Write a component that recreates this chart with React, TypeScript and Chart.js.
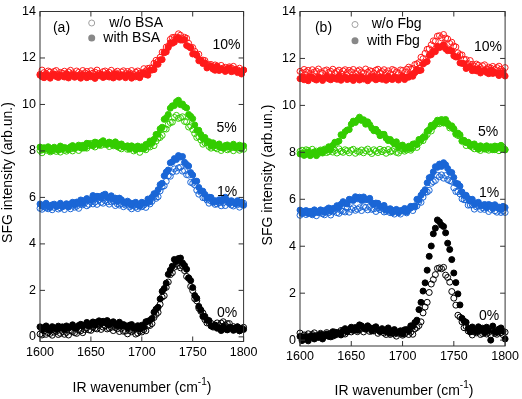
import React, { useEffect, useRef } from "react";
import { Chart, registerables } from "chart.js";

Chart.register(...registerables);

// ---------- data ----------
const WAVENUMBER = [
  1600, 1602, 1604, 1606, 1608, 1610, 1612, 1614, 1616, 1618,
  1620, 1622, 1624, 1626, 1628, 1630, 1632, 1634, 1636, 1638,
  1640, 1642, 1644, 1646, 1648, 1650, 1652, 1654, 1656, 1658,
  1660, 1662, 1664, 1666, 1668, 1670, 1672, 1674, 1676, 1678,
  1680, 1682, 1684, 1686, 1688, 1690, 1692, 1694, 1696, 1698,
  1700, 1702, 1704, 1706, 1708, 1710, 1712, 1714, 1716, 1718,
  1720, 1722, 1724, 1726, 1728, 1730, 1732, 1734, 1736, 1738,
  1740, 1742, 1744, 1746, 1748, 1750, 1752, 1754, 1756, 1758,
  1760, 1762, 1764, 1766, 1768, 1770, 1772, 1774, 1776, 1778,
  1780, 1782, 1784, 1786, 1788, 1790, 1792, 1794, 1796, 1798, 1800,
];
const X_TICKS = [1600, 1650, 1700, 1750, 1800];
const Y_TICKS = [0, 2, 4, 6, 8, 10, 12, 14];
const CONCENTRATIONS = ["10%", "5%", "1%", "0%"];

// panel (a): BSA
const A_10_WO = [
  11.30, 11.48, 11.37, 11.33, 11.44, 11.40, 11.31, 11.42, 11.46, 11.29,
  11.38, 11.35, 11.43, 11.31, 11.40, 11.47, 11.35, 11.28, 11.44, 11.38,
  11.32, 11.46, 11.36, 11.42, 11.29, 11.45, 11.35, 11.39, 11.48, 11.33,
  11.30, 11.41, 11.44, 11.34, 11.38, 11.47, 11.31, 11.37, 11.43, 11.28,
  11.40, 11.45, 11.32, 11.42, 11.36, 11.46, 11.29, 11.39, 11.44, 11.35,
  11.36, 11.54, 11.44, 11.55, 11.57, 11.56, 11.77, 11.90, 11.86, 12.03,
  12.25, 12.25, 12.47, 12.50, 12.80, 12.88, 12.89, 12.89, 13.04, 12.98,
  12.83, 12.89, 12.85, 12.63, 12.46, 12.45, 12.29, 12.13, 12.16, 11.89,
  11.91, 11.89, 11.72, 11.71, 11.72, 11.57, 11.70, 11.66, 11.53, 11.68,
  11.57, 11.60, 11.48, 11.62, 11.57, 11.64, 11.47, 11.49, 11.56, 11.43, 11.48,
];
const A_10_WITH = [
  11.26, 11.19, 11.15, 11.28, 11.23, 11.13, 11.25, 11.31, 11.20, 11.16,
  11.27, 11.22, 11.18, 11.32, 11.14, 11.24, 11.29, 11.17, 11.21, 11.26,
  11.13, 11.28, 11.25, 11.15, 11.30, 11.19, 11.22, 11.12, 11.27, 11.23,
  11.31, 11.16, 11.20, 11.29, 11.18, 11.25, 11.14, 11.32, 11.21, 11.17,
  11.28, 11.24, 11.15, 11.26, 11.30, 11.13, 11.22, 11.19, 11.27, 11.15,
  11.29, 11.37, 11.29, 11.26, 11.47, 11.48, 11.50, 11.73, 11.73, 11.92,
  11.93, 12.22, 12.26, 12.45, 12.66, 12.63, 12.68, 12.83, 12.88, 12.77,
  12.77, 12.79, 12.54, 12.49, 12.43, 12.17, 12.18, 12.11, 11.88, 11.90,
  11.76, 11.79, 11.57, 11.62, 11.64, 11.52, 11.47, 11.63, 11.46, 11.53,
  11.50, 11.42, 11.53, 11.57, 11.41, 11.44, 11.51, 11.37, 11.44, 11.31, 11.48,
];
const A_5_WO = [
  8.02, 7.92, 8.07, 8.03, 8.11, 7.96, 8.00, 8.09, 7.98, 8.05,
  7.95, 8.13, 8.03, 7.99, 8.11, 8.08, 8.00, 8.12, 8.18, 8.02,
  8.13, 8.12, 8.22, 8.12, 8.23, 8.32, 8.22, 8.17, 8.34, 8.29,
  8.24, 8.38, 8.28, 8.33, 8.19, 8.34, 8.22, 8.24, 8.31, 8.14,
  8.09, 8.18, 8.19, 8.07, 8.10, 8.17, 8.00, 8.05, 8.10, 7.94,
  8.10, 8.16, 8.05, 8.18, 8.17, 8.33, 8.23, 8.42, 8.55, 8.58,
  8.67, 8.95, 8.94, 9.14, 9.22, 9.24, 9.44, 9.53, 9.40, 9.43,
  9.47, 9.27, 9.25, 9.03, 9.08, 8.92, 8.75, 8.58, 8.61, 8.47,
  8.29, 8.35, 8.35, 8.19, 8.12, 8.20, 8.14, 8.09, 8.20, 8.02,
  8.12, 8.17, 8.05, 8.09, 8.14, 8.01, 8.16, 8.13, 8.03, 8.18, 8.07,
];
const A_5_WITH = [
  8.17, 8.04, 8.14, 8.08, 8.18, 8.01, 8.11, 8.16, 8.07, 8.03,
  8.21, 8.07, 8.15, 8.12, 8.05, 8.18, 8.23, 8.11, 8.16, 8.25,
  8.14, 8.24, 8.13, 8.33, 8.31, 8.26, 8.24, 8.38, 8.34, 8.25,
  8.38, 8.44, 8.33, 8.28, 8.38, 8.32, 8.27, 8.39, 8.19, 8.27,
  8.30, 8.17, 8.19, 8.22, 8.08, 8.22, 8.17, 8.06, 8.21, 8.09,
  8.18, 8.09, 8.28, 8.28, 8.43, 8.36, 8.50, 8.71, 8.72, 8.95,
  9.02, 9.36, 9.43, 9.57, 9.84, 9.94, 9.95, 10.12, 10.18, 9.99,
  10.02, 9.90, 9.85, 9.57, 9.49, 9.39, 9.12, 8.88, 8.89, 8.71,
  8.54, 8.58, 8.41, 8.40, 8.22, 8.35, 8.23, 8.25, 8.30, 8.15,
  8.12, 8.23, 8.26, 8.16, 8.20, 8.29, 8.13, 8.19, 8.25, 8.10, 8.22,
];
const A_1_WO = [
  5.53, 5.49, 5.60, 5.55, 5.51, 5.65, 5.47, 5.57, 5.62, 5.50,
  5.55, 5.60, 5.48, 5.63, 5.61, 5.51, 5.67, 5.58, 5.62, 5.53,
  5.70, 5.68, 5.77, 5.64, 5.70, 5.81, 5.72, 5.80, 5.70, 5.89,
  5.79, 5.75, 5.86, 5.81, 5.71, 5.81, 5.84, 5.65, 5.72, 5.67,
  5.73, 5.60, 5.67, 5.72, 5.59, 5.51, 5.65, 5.58, 5.52, 5.65,
  5.60, 5.67, 5.57, 5.77, 5.72, 5.83, 6.01, 5.96, 6.03, 6.28,
  6.46, 6.50, 6.69, 6.93, 6.91, 7.09, 7.23, 7.13, 7.27, 7.30,
  7.13, 7.15, 6.98, 6.96, 6.65, 6.61, 6.54, 6.31, 6.14, 6.22,
  5.99, 5.98, 5.89, 5.75, 5.84, 5.85, 5.70, 5.72, 5.77, 5.64,
  5.77, 5.65, 5.81, 5.74, 5.67, 5.63, 5.74, 5.69, 5.58, 5.70, 5.75,
];
const A_1_WITH = [
  5.72, 5.62, 5.66, 5.75, 5.60, 5.57, 5.68, 5.71, 5.61, 5.65,
  5.75, 5.60, 5.66, 5.73, 5.59, 5.72, 5.79, 5.68, 5.80, 5.76,
  5.89, 5.74, 5.87, 5.95, 5.89, 5.88, 6.08, 5.96, 6.05, 6.04,
  5.97, 6.10, 6.14, 5.99, 6.01, 6.07, 5.92, 5.97, 5.82, 5.97,
  5.90, 5.80, 5.74, 5.84, 5.77, 5.65, 5.75, 5.79, 5.67, 5.62,
  5.79, 5.75, 5.75, 5.93, 5.82, 6.01, 6.16, 6.17, 6.33, 6.55,
  6.61, 6.93, 7.09, 7.18, 7.49, 7.53, 7.67, 7.63, 7.80, 7.74,
  7.76, 7.51, 7.42, 7.35, 7.07, 6.96, 6.70, 6.70, 6.43, 6.28,
  6.27, 6.13, 5.96, 6.01, 6.00, 5.79, 5.86, 5.81, 5.90, 5.83,
  5.94, 6.01, 5.87, 5.75, 5.86, 5.80, 5.72, 5.86, 5.74, 5.80, 5.66,
];
const A_0_WO = [
  0.12, 0.08, 0.25, 0.11, 0.18, 0.15, 0.07, 0.20, 0.24, 0.10,
  0.15, 0.23, 0.11, 0.19, 0.08, 0.26, 0.23, 0.18, 0.15, 0.29,
  0.26, 0.18, 0.31, 0.39, 0.30, 0.28, 0.41, 0.37, 0.34, 0.49,
  0.32, 0.42, 0.47, 0.34, 0.37, 0.41, 0.27, 0.40, 0.35, 0.23,
  0.36, 0.24, 0.25, 0.13, 0.27, 0.22, 0.28, 0.12, 0.16, 0.24,
  0.21, 0.31, 0.26, 0.50, 0.49, 0.57, 0.83, 0.97, 1.05, 1.40,
  1.71, 1.77, 2.13, 2.36, 2.68, 2.76, 3.00, 3.16, 3.07, 2.97,
  3.05, 2.85, 2.60, 2.52, 2.17, 1.99, 1.64, 1.55, 1.23, 1.10,
  1.03, 0.74, 0.60, 0.61, 0.58, 0.42, 0.48, 0.60, 0.48, 0.59,
  0.65, 0.50, 0.57, 0.57, 0.39, 0.44, 0.33, 0.43, 0.26, 0.36, 0.41,
];
const A_0_WITH = [
  0.43, 0.31, 0.40, 0.47, 0.35, 0.28, 0.44, 0.38, 0.32, 0.46,
  0.37, 0.43, 0.31, 0.47, 0.38, 0.42, 0.52, 0.39, 0.37, 0.49,
  0.54, 0.46, 0.51, 0.62, 0.48, 0.56, 0.64, 0.50, 0.63, 0.69,
  0.57, 0.67, 0.61, 0.70, 0.52, 0.61, 0.65, 0.54, 0.48, 0.63,
  0.47, 0.53, 0.48, 0.38, 0.50, 0.53, 0.37, 0.40, 0.48, 0.34,
  0.50, 0.41, 0.65, 0.67, 0.71, 0.79, 1.06, 1.19, 1.27, 1.63,
  1.96, 2.08, 2.31, 2.69, 2.87, 3.04, 3.33, 3.24, 3.37, 3.39,
  3.18, 3.07, 2.91, 2.54, 2.42, 2.12, 1.78, 1.66, 1.31, 1.16,
  0.88, 0.88, 0.72, 0.70, 0.47, 0.45, 0.51, 0.37, 0.38, 0.27,
  0.45, 0.34, 0.30, 0.41, 0.37, 0.28, 0.39, 0.43, 0.26, 0.35, 0.32,
];

// panel (b): Fbg
const B_10_WO = [
  11.45, 11.39, 11.53, 11.43, 11.49, 11.36, 11.52, 11.42, 11.46, 11.55,
  11.40, 11.37, 11.48, 11.51, 11.41, 11.45, 11.54, 11.38, 11.44, 11.50,
  11.35, 11.47, 11.52, 11.39, 11.49, 11.43, 11.53, 11.36, 11.46, 11.51,
  11.42, 11.38, 11.55, 11.41, 11.48, 11.45, 11.37, 11.50, 11.54, 11.40,
  11.44, 11.52, 11.39, 11.47, 11.35, 11.53, 11.49, 11.42, 11.38, 11.51,
  11.49, 11.41, 11.54, 11.63, 11.56, 11.57, 11.74, 11.77, 11.82, 12.05,
  11.99, 12.22, 12.39, 12.41, 12.58, 12.75, 12.73, 12.95, 12.97, 12.88,
  13.02, 12.87, 12.83, 12.64, 12.69, 12.53, 12.49, 12.24, 12.16, 12.15,
  11.96, 11.95, 11.78, 11.91, 11.75, 11.68, 11.76, 11.71, 11.61, 11.69,
  11.73, 11.55, 11.63, 11.59, 11.66, 11.53, 11.61, 11.67, 11.54, 11.46, 11.61,
];
const B_10_WITH = [
  11.14, 11.22, 11.09, 11.17, 11.05, 11.23, 11.19, 11.12, 11.08, 11.21,
  11.16, 11.06, 11.18, 11.24, 11.13, 11.09, 11.20, 11.15, 11.11, 11.25,
  11.07, 11.17, 11.22, 11.10, 11.14, 11.19, 11.06, 11.21, 11.18, 11.08,
  11.23, 11.12, 11.15, 11.05, 11.20, 11.16, 11.24, 11.09, 11.13, 11.22,
  11.11, 11.18, 11.07, 11.25, 11.14, 11.10, 11.21, 11.17, 11.08, 11.19,
  11.26, 11.10, 11.20, 11.20, 11.31, 11.24, 11.39, 11.52, 11.48, 11.50,
  11.76, 11.83, 11.87, 12.13, 12.16, 12.32, 12.29, 12.52, 12.46, 12.51,
  12.59, 12.41, 12.33, 12.36, 12.31, 12.11, 12.06, 12.07, 11.81, 11.79,
  11.78, 11.57, 11.64, 11.65, 11.48, 11.55, 11.47, 11.56, 11.38, 11.46,
  11.50, 11.40, 11.35, 11.51, 11.36, 11.41, 11.37, 11.27, 11.38, 11.40, 11.25,
];
const B_5_WO = [
  8.04, 8.09, 7.96, 8.11, 8.08, 7.98, 8.13, 8.02, 8.05, 7.95,
  8.10, 8.06, 8.14, 7.99, 8.03, 8.12, 8.01, 8.08, 7.97, 8.15,
  8.04, 8.00, 8.11, 8.07, 7.98, 8.09, 8.13, 7.96, 8.05, 8.02,
  8.10, 7.98, 8.07, 8.14, 8.02, 7.95, 8.11, 8.05, 7.99, 8.13,
  8.03, 8.09, 7.96, 8.12, 8.02, 8.06, 8.15, 8.00, 7.97, 8.08,
  8.14, 8.05, 8.10, 8.22, 8.09, 8.19, 8.30, 8.21, 8.41, 8.53,
  8.50, 8.72, 8.76, 8.97, 8.91, 9.11, 9.25, 9.22, 9.22, 9.40,
  9.25, 9.28, 9.20, 9.04, 9.07, 9.01, 8.77, 8.72, 8.69, 8.47,
  8.48, 8.29, 8.41, 8.33, 8.22, 8.15, 8.26, 8.19, 8.08, 8.18,
  8.24, 8.13, 8.09, 8.20, 8.15, 8.11, 8.25, 8.07, 8.17, 8.22, 8.10,
];
const B_5_WITH = [
  7.93, 7.96, 7.87, 7.92, 8.01, 7.86, 7.93, 8.00, 7.86, 8.00,
  8.07, 7.97, 8.11, 8.09, 8.24, 8.13, 8.30, 8.43, 8.43, 8.48,
  8.75, 8.71, 8.88, 8.95, 8.97, 9.20, 9.33, 9.27, 9.38, 9.50,
  9.36, 9.39, 9.20, 9.30, 9.18, 9.03, 8.92, 8.98, 8.87, 8.71,
  8.77, 8.77, 8.60, 8.50, 8.55, 8.45, 8.36, 8.45, 8.22, 8.28,
  8.31, 8.14, 8.19, 8.26, 8.16, 8.35, 8.37, 8.33, 8.55, 8.52,
  8.64, 8.65, 8.90, 8.96, 9.15, 9.10, 9.22, 9.37, 9.30, 9.38,
  9.26, 9.40, 9.24, 9.12, 9.13, 8.99, 8.80, 8.82, 8.75, 8.49,
  8.51, 8.41, 8.43, 8.27, 8.32, 8.36, 8.22, 8.13, 8.28, 8.20,
  8.14, 8.28, 8.18, 8.24, 8.11, 8.27, 8.17, 8.21, 8.30, 8.15, 8.12,
];
const B_1_WO = [
  5.32, 5.45, 5.49, 5.35, 5.39, 5.47, 5.34, 5.42, 5.30, 5.48,
  5.44, 5.38, 5.34, 5.47, 5.43, 5.33, 5.46, 5.53, 5.43, 5.40,
  5.52, 5.49, 5.46, 5.62, 5.45, 5.57, 5.64, 5.53, 5.58, 5.64,
  5.52, 5.68, 5.65, 5.55, 5.69, 5.57, 5.59, 5.48, 5.62, 5.56,
  5.62, 5.46, 5.48, 5.56, 5.43, 5.49, 5.37, 5.54, 5.42, 5.37,
  5.53, 5.50, 5.42, 5.56, 5.63, 5.52, 5.67, 5.72, 5.90, 5.87,
  6.09, 6.30, 6.31, 6.38, 6.68, 6.75, 6.80, 7.02, 6.96, 7.04,
  6.90, 7.01, 6.84, 6.79, 6.76, 6.49, 6.33, 6.33, 6.23, 6.02,
  5.98, 5.98, 5.75, 5.76, 5.77, 5.58, 5.68, 5.71, 5.57, 5.64,
  5.57, 5.66, 5.48, 5.57, 5.61, 5.51, 5.45, 5.60, 5.44, 5.49, 5.44,
];
const B_1_WITH = [
  5.54, 5.39, 5.43, 5.52, 5.41, 5.48, 5.37, 5.55, 5.46, 5.43,
  5.55, 5.52, 5.44, 5.57, 5.63, 5.49, 5.61, 5.62, 5.73, 5.66,
  5.79, 5.90, 5.83, 5.80, 6.00, 5.98, 5.95, 6.11, 6.02, 6.09,
  5.95, 6.10, 5.98, 5.99, 6.04, 5.85, 5.78, 5.84, 5.83, 5.69,
  5.68, 5.74, 5.54, 5.57, 5.60, 5.43, 5.53, 5.57, 5.43, 5.52,
  5.51, 5.61, 5.46, 5.60, 5.70, 5.68, 5.72, 6.00, 5.98, 6.17,
  6.30, 6.41, 6.70, 6.92, 6.96, 7.17, 7.39, 7.36, 7.50, 7.40,
  7.56, 7.47, 7.31, 7.15, 7.14, 6.93, 6.68, 6.66, 6.56, 6.31,
  6.16, 6.17, 6.03, 5.92, 6.00, 5.78, 5.84, 5.87, 5.73, 5.74,
  5.78, 5.64, 5.78, 5.74, 5.63, 5.77, 5.65, 5.67, 5.56, 5.70, 5.65,
];
const B_0_WO = [
  0.30, 0.13, 0.22, 0.19, 0.27, 0.15, 0.24, 0.31, 0.19, 0.12,
  0.29, 0.23, 0.17, 0.32, 0.22, 0.29, 0.17, 0.34, 0.25, 0.31,
  0.41, 0.28, 0.26, 0.39, 0.44, 0.35, 0.41, 0.51, 0.36, 0.43,
  0.50, 0.35, 0.47, 0.51, 0.37, 0.46, 0.39, 0.47, 0.29, 0.37,
  0.40, 0.30, 0.24, 0.40, 0.24, 0.30, 0.26, 0.17, 0.29, 0.33,
  0.21, 0.26, 0.35, 0.24, 0.34, 0.25, 0.48, 0.54, 0.62, 0.78,
  1.16, 1.41, 1.61, 2.03, 2.39, 2.58, 2.79, 3.05, 3.08, 3.04,
  3.10, 2.77, 2.67, 2.47, 2.07, 1.79, 1.49, 1.06, 0.98, 0.78,
  0.53, 0.58, 0.39, 0.36, 0.22, 0.35, 0.31, 0.39, 0.24, 0.28,
  0.37, 0.26, 0.33, 0.22, 0.40, 0.29, 0.25, 0.36, 0.32, 0.23, 0.34,
];
const B_0_WITH = [
  0.16, -0.02, 0.06, 0.14, -0.03, 0.12, 0.19, 0.05, 0.18, 0.12,
  0.25, 0.05, 0.18, 0.26, 0.16, 0.14, 0.36, 0.21, 0.32, 0.30,
  0.22, 0.41, 0.49, 0.35, 0.43, 0.55, 0.43, 0.54, 0.42, 0.65,
  0.61, 0.52, 0.47, 0.61, 0.53, 0.39, 0.52, 0.57, 0.43, 0.37,
  0.49, 0.42, 0.36, 0.52, 0.29, 0.40, 0.45, 0.30, 0.35, 0.40,
  0.26, 0.44, 0.45, 0.40, 0.61, 0.59, 0.75, 0.85, 1.30, 1.61,
  2.09, 2.44, 2.98, 3.57, 4.01, 4.53, 4.77, 5.12, 5.04, 4.90,
  4.84, 4.57, 4.13, 3.86, 3.43, 2.86, 2.45, 1.97, 1.50, 0.93,
  0.81, 0.76, 0.50, 0.35, 0.56, 0.45, 0.36, 0.57, 0.42, 0.51,
  0.31, 0.55, 0.40, 0.00, 0.60, 0.37, 0.33, 0.47, 0.52, 0.38, 0.05,
];

// ---------- styling / layout ----------
const FONT = '"Liberation Sans", Arial, Helvetica, sans-serif';
const COLORS = ["#ff1a1a", "#33cc00", "#1a66d6", "#000000"];

interface PanelSpec {
  left: number;
  width: number;
  height: number;
  area: { left: number; right: number; top: number; bottom: number };
  yMin: number;
  xTickPad: number;
  tag: string;
  tagPos: [number, number];
  protein: string;
  wo: number[][];
  withP: number[][];
  labelPos: [number, number][];
  legend: { mx: number; woX: number; withX: number; y1: number; y2: number };
  yTitle: [number, number];
  xTitle: [number, number];
}

const PANELS: PanelSpec[] = [
  {
    left: 0,
    width: 261,
    height: 399,
    area: { left: 40, right: 245, top: 8.3, bottom: 341.5 },
    yMin: -0.2,
    xTickPad: 3.5,
    tag: "(a)",
    tagPos: [61.5, 28],
    protein: "BSA",
    wo: [A_10_WO, A_5_WO, A_1_WO, A_0_WO],
    withP: [A_10_WITH, A_5_WITH, A_1_WITH, A_0_WITH],
    labelPos: [[226.5, 45], [226.5, 128], [227, 192], [227, 312.7]],
    legend: { mx: 91.7, woX: 109.3, withX: 103.3, y1: 23, y2: 38 },
    yTitle: [8, 172.5],
    xTitle: [142, 387],
  },
  {
    left: 261,
    width: 261,
    height: 399,
    area: { left: 39, right: 244.7, top: 9.3, bottom: 346 },
    yMin: -0.25,
    xTickPad: 3,
    tag: "(b)",
    tagPos: [323.5, 28],
    protein: "Fbg",
    wo: [B_10_WO, B_5_WO, B_1_WO, B_0_WO],
    withP: [B_10_WITH, B_5_WITH, B_1_WITH, B_0_WITH],
    labelPos: [[488, 46.7], [488, 131.7], [489, 192.7], [489, 316]],
    legend: { mx: 355, woX: 371.7, withX: 367, y1: 24.5, y2: 40.7 },
    yTitle: [268, 175],
    xTitle: [404, 390],
  },
];

function toPoints(values: number[]) {
  return values.map((v, i) => ({ x: WAVENUMBER[i], y: v }));
}

function decoPlugin(spec: PanelSpec) {
  return {
    id: "deco" + spec.tag,
    afterDraw(chart: any) {
      const ctx: CanvasRenderingContext2D = chart.ctx;
      const { left, right, top, bottom } = chart.chartArea;
      const xs = chart.scales.x;
      const ys = chart.scales.y;
      const ox = spec.left;
      ctx.save();
      // frame + inward ticks
      ctx.strokeStyle = "#333";
      ctx.lineWidth = 1;
      ctx.strokeRect(left, top, right - left, bottom - top);
      ctx.beginPath();
      for (const v of X_TICKS) {
        const px = xs.getPixelForValue(v);
        ctx.moveTo(px, bottom);
        ctx.lineTo(px, bottom - 5);
        ctx.moveTo(px, top);
        ctx.lineTo(px, top + 5);
      }
      for (const v of Y_TICKS) {
        const py = ys.getPixelForValue(v);
        ctx.moveTo(left, py);
        ctx.lineTo(left + 5, py);
        ctx.moveTo(right, py);
        ctx.lineTo(right - 5, py);
      }
      ctx.stroke();

      ctx.fillStyle = "#000";
      ctx.font = `14px ${FONT}`;
      ctx.textBaseline = "middle";
      // tag
      ctx.textAlign = "center";
      ctx.fillText(spec.tag, spec.tagPos[0] - ox, spec.tagPos[1]);
      // concentration labels
      CONCENTRATIONS.forEach((c, i) => {
        ctx.fillText(c, spec.labelPos[i][0] - ox, spec.labelPos[i][1]);
      });
      // legend
      const lg = spec.legend;
      ctx.beginPath();
      ctx.strokeStyle = "#a0a0a0";
      ctx.lineWidth = 1;
      ctx.arc(lg.mx - ox, lg.y1, 3, 0, Math.PI * 2);
      ctx.stroke();
      ctx.beginPath();
      ctx.fillStyle = "#888";
      ctx.arc(lg.mx - ox, lg.y2, 3.5, 0, Math.PI * 2);
      ctx.fill();
      ctx.fillStyle = "#000";
      ctx.textAlign = "left";
      ctx.fillText("w/o " + spec.protein, lg.woX - ox, lg.y1);
      ctx.fillText("with " + spec.protein, lg.withX - ox, lg.y2);
      // y title
      ctx.save();
      ctx.translate(spec.yTitle[0] - ox, spec.yTitle[1]);
      ctx.rotate(-Math.PI / 2);
      ctx.textAlign = "center";
      ctx.fillText("SFG intensity (arb.un.)", 0, 0);
      ctx.restore();
      // x title with superscript
      const main = "IR wavenumber (cm";
      const sup = "-1";
      const end = ")";
      ctx.font = `14px ${FONT}`;
      const w1 = ctx.measureText(main).width;
      const w3 = ctx.measureText(end).width;
      ctx.font = `10px ${FONT}`;
      const w2 = ctx.measureText(sup).width;
      const x0 = spec.xTitle[0] - ox - (w1 + w2 + w3) / 2;
      const base = spec.xTitle[1] + 5;
      ctx.textAlign = "left";
      ctx.textBaseline = "alphabetic";
      ctx.font = `14px ${FONT}`;
      ctx.fillText(main, x0, base);
      ctx.font = `10px ${FONT}`;
      ctx.fillText(sup, x0 + w1, base - 7);
      ctx.font = `14px ${FONT}`;
      ctx.fillText(end, x0 + w1 + w2, base);
      ctx.restore();
    },
  };
}

function Panel({ spec }: { spec: PanelSpec }) {
  const ref = useRef<HTMLCanvasElement>(null);
  useEffect(() => {
    const canvas = ref.current;
    if (!canvas) return;
    const datasets: any[] = [];
    spec.wo.forEach((vals, i) => {
      datasets.push({
        label: "w/o " + CONCENTRATIONS[i],
        data: toPoints(vals),
        pointRadius: 3,
        pointBorderWidth: 1,
        pointBackgroundColor: "rgba(255,255,255,0)",
        pointBorderColor: COLORS[i],
        backgroundColor: "rgba(255,255,255,0)",
        borderColor: COLORS[i],
        showLine: false,
        clip: false,
      });
    });
    spec.withP.forEach((vals, i) => {
      datasets.push({
        label: "with " + CONCENTRATIONS[i],
        data: toPoints(vals),
        pointRadius: 3,
        pointBorderWidth: 1,
        pointBackgroundColor: COLORS[i],
        pointBorderColor: COLORS[i],
        backgroundColor: COLORS[i],
        borderColor: COLORS[i],
        showLine: false,
        clip: false,
      });
    });
    const tickFont = { family: FONT, size: 12.5 };
    const chart = new Chart(canvas, {
      type: "scatter",
      data: { datasets },
      options: {
        animation: false,
        responsive: false,
        maintainAspectRatio: false,
        devicePixelRatio: 1,
        events: [],
        layout: {
          autoPadding: false,
          padding: {
            left: 0,
            right: spec.width - spec.area.right,
            top: spec.area.top,
            bottom: 0,
          },
        },
        plugins: { legend: { display: false }, tooltip: { enabled: false } },
        scales: {
          x: {
            type: "linear",
            min: 1600,
            max: 1800,
            afterBuildTicks: (s: any) => {
              s.ticks = X_TICKS.map((v) => ({ value: v }));
            },
            afterFit: (s: any) => {
              s.height = spec.height - spec.area.bottom;
            },
            grid: { display: false, drawTicks: false },
            border: { display: false },
            ticks: {
              font: tickFont,
              color: "#000",
              padding: spec.xTickPad,
              maxRotation: 0,
              autoSkip: false,
              callback: (v: any) => String(v),
            },
          },
          y: {
            type: "linear",
            min: spec.yMin,
            max: 14,
            afterBuildTicks: (s: any) => {
              s.ticks = Y_TICKS.map((v) => ({ value: v }));
            },
            afterFit: (s: any) => {
              s.width = spec.area.left;
            },
            grid: { display: false, drawTicks: false },
            border: { display: false },
            ticks: {
              font: tickFont,
              color: "#000",
              padding: 4,
              autoSkip: false,
              callback: (v: any) => String(v),
            },
          },
        },
      } as any,
      plugins: [decoPlugin(spec)],
    });
    return () => chart.destroy();
  }, [spec]);
  return (
    <canvas
      ref={ref}
      width={spec.width}
      height={spec.height}
      style={{
        position: "absolute",
        left: spec.left,
        top: 0,
        width: spec.width,
        height: spec.height,
      }}
    />
  );
}

export default function App() {
  return (
    <div
      style={{
        position: "fixed",
        left: 0,
        top: 0,
        width: 522,
        height: 399,
        background: "#fff",
        overflow: "hidden",
      }}
    >
      {PANELS.map((p) => (
        <Panel key={p.tag} spec={p} />
      ))}
    </div>
  );
}
